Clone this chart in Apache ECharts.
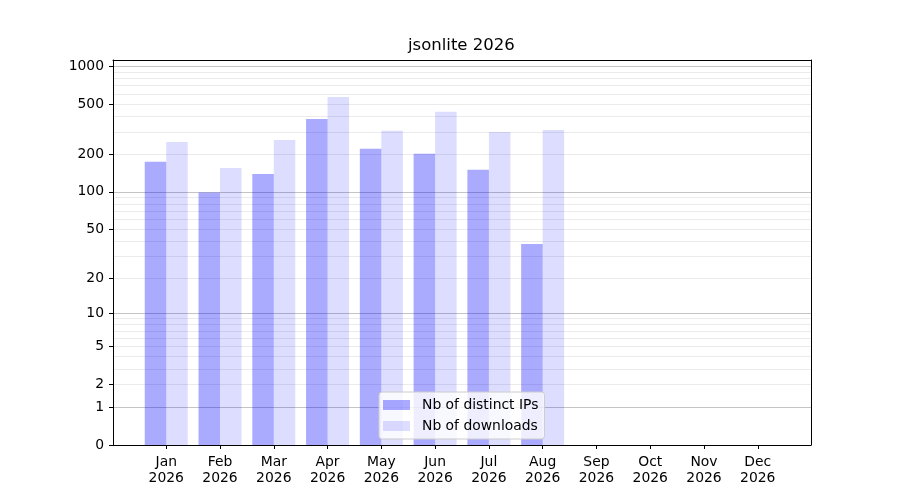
<!DOCTYPE html>
<html>
<head>
    <meta charset="UTF-8">
    <title>jsonlite 2026</title>
    <script src="https://cdn.jsdelivr.net/npm/echarts@6/dist/echarts.min.js"></script>
    <style>
        html, body { margin: 0; padding: 0; background: #fff; }
        #main { width: 900px; height: 500px; }
    </style>
</head>
<body>
<div id="main"></div>
<script type="text/javascript">
    // data
    var months = ['Jan','Feb','Mar','Apr','May','Jun','Jul','Aug','Sep','Oct','Nov','Dec'];
    var year = '2026';
    var distinctIps = [174, 99, 139, 380, 220, 201, 150, 38];
    var downloads = [250, 155, 259, 568, 306, 433, 300, 311];
    var yTickLabels = [0, 1, 2, 5, 10, 20, 50, 100, 200, 500, 1000];
    var majorGrid = [1, 10, 100, 1000];
    var minorGrid = [2, 3, 4, 5, 6, 7, 8, 9, 20, 30, 40, 50, 60, 70, 80, 90,
                     200, 300, 400, 500, 600, 700, 800, 900];

    // y scale is log10(1 + v)
    function tr(v) { return Math.log10(1 + v); }
    function untr(t) { return Math.round(Math.pow(10, t) - 1); }

    var yMin = 0, yMax = 3.048;
    var xMin = -0.99, xMax = 11.99;
    var font = 'DejaVu Sans';

    function pairs(arr) {
        var out = [];
        for (var i = 0; i < arr.length; i++) out.push([i, tr(arr[i])]);
        return out;
    }

    // hidden y axis that only carries grid lines
    function gridAxis(values, color) {
        return {
            type: 'value',
            min: yMin, max: yMax,
            position: 'left',
            z: 0,
            axisLine: { show: false, onZero: false },
            axisTick: { show: false, customValues: values.map(tr) },
            axisLabel: { show: false },
            splitLine: { show: true, lineStyle: { color: color, width: 1 } }
        };
    }

    var monthIdx = months.map(function (m, i) { return i; });

    var myChart = echarts.init(document.getElementById('main'));
    var option = {
        animation: false,
        backgroundColor: '#fff',
        textStyle: { fontFamily: font },
        title: {
            text: 'jsonlite 2026',
            left: 408,
            top: 37,
            padding: 0,
            textStyle: { fontFamily: font, fontSize: 16.5, fontWeight: 'normal', color: '#000' }
        },
        grid: {
            left: 113, right: 89, top: 60, bottom: 55,
            show: false
        },
        legend: {
            orient: 'vertical',
            left: 379,
            top: 392,
            padding: [5, 6, 5, 4],
            itemWidth: 27,
            itemHeight: 10,
            itemGap: 5,
            icon: 'rect',
            backgroundColor: 'rgba(255,255,255,0.8)',
            borderColor: '#cccccc',
            borderWidth: 1,
            borderRadius: 3,
            textStyle: { fontFamily: font, fontSize: 13.9, color: '#000', lineHeight: 16, padding: [0, 0, 0, 7] },
            data: ['Nb of distinct IPs', 'Nb of downloads']
        },
        xAxis: [
            {
                type: 'value',
                min: xMin, max: xMax,
                position: 'bottom',
                z: 3,
                axisLine: { onZero: false, lineStyle: { color: '#000' } },
                axisTick: { length: 4, lineStyle: { color: '#000' }, customValues: monthIdx },
                axisLabel: {
                    customValues: monthIdx,
                    margin: 9,
                    color: '#000',
                    fontFamily: font,
                    fontSize: 13.9,
                    lineHeight: 16,
                    formatter: function (v) { return months[Math.round(v)] + '\n' + year; }
                },
                splitLine: { show: false }
            },
            {
                // top frame line
                type: 'value',
                min: xMin, max: xMax,
                position: 'top',
                z: 3,
                axisLine: { show: true, onZero: false, lineStyle: { color: '#000' } },
                axisTick: { show: false },
                axisLabel: { show: false },
                splitLine: { show: false }
            }
        ],
        yAxis: [
            {
                type: 'value',
                min: yMin, max: yMax,
                position: 'left',
                z: 3,
                axisLine: { show: true, onZero: false, lineStyle: { color: '#000' } },
                axisTick: { show: true, length: 4, lineStyle: { color: '#000' }, customValues: yTickLabels.map(tr) },
                axisLabel: {
                    customValues: yTickLabels.map(tr),
                    margin: 9,
                    color: '#000',
                    fontFamily: font,
                    fontSize: 13.9,
                    formatter: function (v) { return String(untr(v)); }
                },
                splitLine: { show: false }
            },
            gridAxis(minorGrid, '#ebebeb'),
            gridAxis(majorGrid, '#c4c4c4'),
            {
                // right frame line
                type: 'value',
                min: yMin, max: yMax,
                position: 'right',
                z: 3,
                axisLine: { show: true, onZero: false, lineStyle: { color: '#000' } },
                axisTick: { show: false },
                axisLabel: { show: false },
                splitLine: { show: false }
            }
        ],
        series: [
            {
                name: 'Nb of distinct IPs',
                type: 'bar',
                xAxisIndex: 0,
                yAxisIndex: 0,
                barWidth: 21.5,
                barGap: '0%',
                itemStyle: { color: 'rgba(0,0,255,0.333)' },
                data: pairs(distinctIps)
            },
            {
                name: 'Nb of downloads',
                type: 'bar',
                xAxisIndex: 0,
                yAxisIndex: 0,
                barWidth: 21.5,
                barGap: '0%',
                itemStyle: { color: 'rgba(0,0,255,0.133)' },
                data: pairs(downloads)
            }
        ]
    };
    myChart.setOption(option);
</script>
</body>
</html>
